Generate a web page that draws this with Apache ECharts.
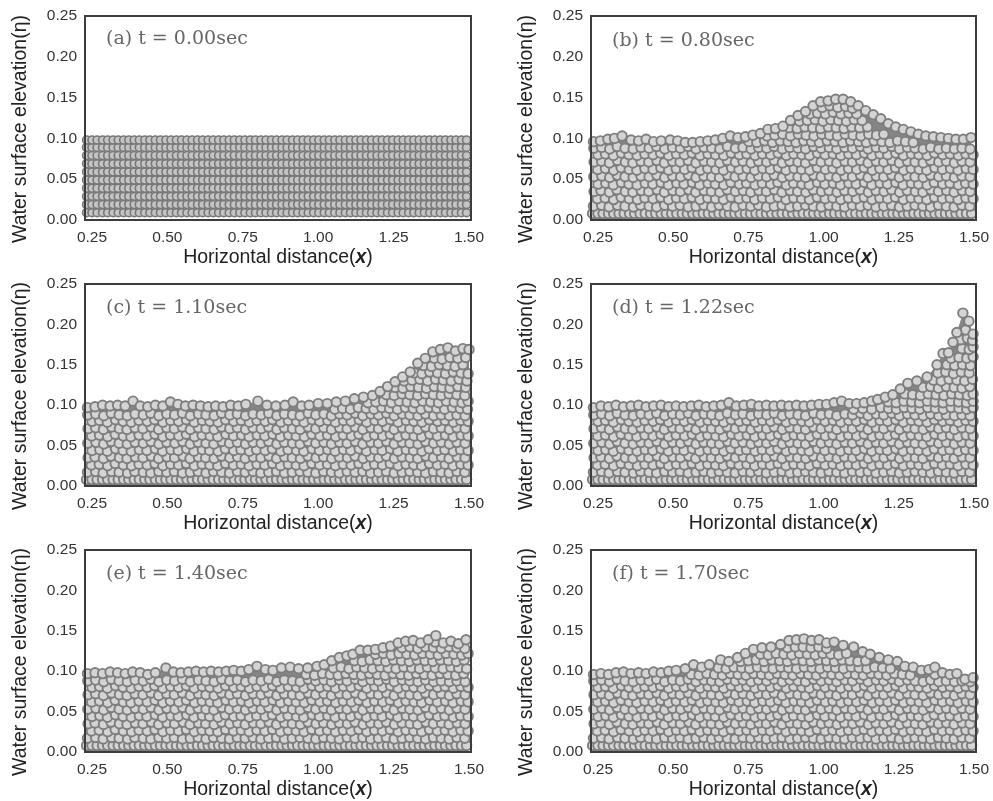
<!DOCTYPE html>
<html>
<head>
<meta charset="utf-8">
<style>
  html, body { margin: 0; background: #fff; }
  #chart { width: 993px; height: 801px; }
  /* the reference is a soft scan */
  #chart canvas { filter: blur(0.45px); }
</style>
<script src="https://cdn.jsdelivr.net/npm/echarts@6/dist/echarts.min.js"></script>
</head>
<body>
<div id="chart"></div>
<script>
  // tick labels
  const xTicks = [0.25, 0.5, 0.75, 1.0, 1.25, 1.5]
  const panelTitles = ['(a) t = 0.00sec', '(b) t = 0.80sec', '(c) t = 1.10sec', '(d) t = 1.22sec', '(e) t = 1.40sec', '(f) t = 1.70sec']

  // (a) starting lattice, and the fixed bottom row used in (b)-(f)
  const latticeX = [.232,.25,.267,.285,.302,.32,.337,.355,.372,.39,.407,.425,.442,.46,.477,.495,.512,.53,.547,.565,.582,.6,.617,.635,.652,.67,.687,.705,.722,.74,.757,.775,.792,.81,.827,.845,.862,.88,.897,.915,.932,.95,.967,.985,1.002,1.02,1.037,1.055,1.072,1.09,1.107,1.125,1.142,1.16,1.177,1.195,1.212,1.23,1.247,1.265,1.282,1.3,1.317,1.335,1.352,1.37,1.387,1.405,1.422,1.44,1.457,1.475,1.492]
  const latticeY = [.009,.019,.029,.039,.049,.059,.069,.079,.089,.098]
  const bedY = 0.008

  // Individual particles under y = 0.09 can't be told apart in the picture,
  // so this is one estimated packing shared by (b)-(f).
  const bodyPoints = [
    [.235,.017],[.262,.018],[.287,.016],[.315,.018],[.34,.017],[.368,.016],[.392,.018],[.42,.017],[.445,.016],[.472,.018],[.498,.017],[.523,.018],[.55,.016],[.576,.017],[.602,.018],[.628,.016],[.653,.018],[.68,.017],[.706,.016],[.732,.018],[.758,.017],[.784,.018],[.81,.016],[.836,.017],[.862,.018],[.888,.016],[.914,.017],[.94,.018],[.966,.017],[.992,.016],[1.018,.018],[1.044,.017],[1.07,.016],[1.096,.018],[1.122,.017],[1.148,.018],[1.174,.016],[1.2,.017],[1.226,.018],[1.252,.016],[1.278,.017],[1.304,.018],[1.33,.017],[1.356,.016],[1.382,.018],[1.408,.017],[1.434,.016],[1.46,.018],[1.486,.017],
    [.248,.026],[.274,.027],[.302,.025],[.327,.028],[.354,.026],[.381,.025],[.406,.027],[.433,.026],[.459,.028],[.485,.025],[.511,.027],[.537,.026],[.563,.028],[.589,.025],[.615,.027],[.641,.026],[.667,.025],[.693,.028],[.719,.026],[.745,.027],[.771,.025],[.797,.027],[.823,.026],[.849,.028],[.875,.025],[.901,.027],[.927,.026],[.953,.025],[.979,.028],[1.005,.026],[1.031,.027],[1.057,.025],[1.083,.027],[1.109,.026],[1.135,.028],[1.161,.025],[1.187,.027],[1.213,.026],[1.239,.028],[1.265,.025],[1.291,.027],[1.317,.026],[1.343,.025],[1.369,.028],[1.395,.026],[1.421,.027],[1.447,.025],[1.473,.027],[1.497,.026],
    [.237,.035],[.26,.036],[.288,.034],[.313,.037],[.341,.035],[.366,.034],[.394,.036],[.419,.035],[.447,.037],[.471,.034],[.499,.036],[.524,.035],[.552,.037],[.575,.034],[.603,.036],[.627,.035],[.655,.034],[.68,.037],[.707,.035],[.733,.036],[.758,.034],[.785,.036],[.81,.035],[.837,.037],[.862,.034],[.889,.036],[.914,.035],[.941,.034],[.966,.037],[.993,.035],[1.018,.036],[1.045,.034],[1.07,.036],[1.097,.035],[1.122,.037],[1.149,.034],[1.174,.036],[1.201,.035],[1.226,.037],[1.253,.034],[1.278,.036],[1.305,.035],[1.33,.034],[1.357,.037],[1.382,.035],[1.409,.036],[1.434,.034],[1.461,.036],[1.487,.035],
    [.25,.044],[.276,.045],[.301,.043],[.328,.046],[.353,.044],[.38,.043],[.407,.045],[.432,.044],[.46,.046],[.484,.043],[.512,.045],[.536,.044],[.564,.046],[.588,.043],[.616,.045],[.64,.044],[.668,.043],[.692,.046],[.72,.044],[.744,.045],[.772,.043],[.796,.045],[.824,.044],[.848,.046],[.876,.043],[.9,.045],[.928,.044],[.952,.043],[.98,.046],[1.004,.044],[1.032,.045],[1.056,.043],[1.084,.045],[1.108,.044],[1.136,.046],[1.16,.043],[1.188,.045],[1.212,.044],[1.24,.046],[1.264,.043],[1.292,.045],[1.316,.044],[1.344,.043],[1.368,.046],[1.396,.044],[1.42,.045],[1.448,.043],[1.472,.045],[1.497,.044],
    [.236,.053],[.263,.054],[.289,.052],[.314,.055],[.34,.053],[.367,.052],[.393,.054],[.42,.053],[.446,.055],[.472,.052],[.498,.054],[.525,.053],[.551,.055],[.576,.052],[.602,.054],[.628,.053],[.654,.052],[.681,.055],[.706,.053],[.732,.054],[.759,.052],[.784,.054],[.811,.053],[.836,.055],[.863,.052],[.888,.054],[.915,.053],[.94,.052],[.967,.055],[.992,.053],[1.019,.054],[1.044,.052],[1.071,.054],[1.096,.053],[1.123,.055],[1.148,.052],[1.175,.054],[1.2,.053],[1.227,.055],[1.252,.052],[1.279,.054],[1.304,.053],[1.331,.052],[1.356,.055],[1.383,.053],[1.408,.054],[1.435,.052],[1.46,.054],[1.487,.053],
    [.249,.062],[.275,.063],[.302,.061],[.327,.064],[.354,.062],[.379,.061],[.406,.063],[.433,.062],[.459,.064],[.485,.061],[.51,.063],[.538,.062],[.563,.064],[.59,.061],[.615,.063],[.642,.062],[.667,.061],[.694,.064],[.719,.062],[.746,.063],[.771,.061],[.798,.063],[.823,.062],[.85,.064],[.875,.061],[.902,.063],[.927,.062],[.954,.061],[.979,.064],[1.006,.062],[1.031,.063],[1.058,.061],[1.083,.063],[1.11,.062],[1.135,.064],[1.162,.061],[1.187,.063],[1.214,.062],[1.239,.064],[1.266,.061],[1.291,.063],[1.318,.062],[1.343,.061],[1.37,.064],[1.395,.062],[1.422,.063],[1.447,.061],[1.474,.063],[1.497,.062],
    [.237,.071],[.262,.072],[.288,.07],[.315,.073],[.341,.071],[.366,.07],[.393,.072],[.419,.071],[.446,.073],[.471,.07],[.498,.072],[.523,.071],[.55,.073],[.576,.07],[.603,.072],[.628,.071],[.655,.07],[.68,.073],[.707,.071],[.732,.072],[.759,.07],[.784,.072],[.811,.071],[.836,.073],[.863,.07],[.888,.072],[.915,.071],[.94,.07],[.967,.073],[.992,.071],[1.019,.072],[1.044,.07],[1.071,.072],[1.096,.071],[1.123,.073],[1.148,.07],[1.175,.072],[1.2,.071],[1.227,.073],[1.252,.07],[1.279,.072],[1.304,.071],[1.331,.07],[1.356,.073],[1.383,.071],[1.408,.072],[1.435,.07],[1.46,.072],[1.487,.071],
    [.25,.08],[.275,.081],[.301,.079],[.328,.082],[.353,.08],[.38,.079],[.406,.081],[.433,.08],[.458,.082],[.485,.079],[.511,.081],[.537,.08],[.563,.082],[.589,.079],[.616,.081],[.641,.08],[.668,.079],[.693,.082],[.72,.08],[.745,.081],[.772,.079],[.797,.081],[.824,.08],[.849,.082],[.876,.079],[.901,.081],[.928,.08],[.953,.079],[.98,.082],[1.005,.08],[1.032,.081],[1.057,.079],[1.084,.081],[1.109,.08],[1.136,.082],[1.161,.079],[1.188,.081],[1.213,.08],[1.24,.082],[1.265,.079],[1.292,.081],[1.317,.08],[1.344,.079],[1.369,.082],[1.396,.08],[1.421,.081],[1.448,.079],[1.473,.081],[1.497,.08],
    [.236,.088],[.262,.089],[.289,.087],[.314,.09],[.34,.088],[.367,.087],[.393,.089],[.42,.088],[.445,.09],[.472,.087],[.498,.089],[.524,.088],[.55,.09],[.576,.087],[.603,.089],[.628,.088],[.655,.087],[.68,.09],[.707,.088],[.732,.089],[.759,.087],[.784,.089],[.811,.088],[.836,.09],[.863,.087],[.888,.089],[.915,.088],[.94,.087],[.967,.09],[.992,.088],[1.019,.089],[1.044,.087],[1.071,.089],[1.096,.088],[1.123,.09],[1.148,.087],[1.175,.089],[1.2,.088],[1.227,.09],[1.252,.087],[1.279,.089],[1.304,.088],[1.331,.087],[1.356,.089],[1.383,.087],[1.408,.088],[1.435,.087],[1.46,.088],[1.487,.087]
  ]

  // top row of particles of each panel, read along the free surface
  const surfaceB = [[.235,.096],[.258,.097],[.283,.099],[.305,.1],[.33,.103],[.36,.098],[.385,.097],[.41,.099],[.435,.096],[.46,.097],[.49,.098],[.515,.097],[.54,.095],[.565,.095],[.59,.096],[.615,.097],[.64,.098],[.665,.1],[.69,.103],[.715,.101],[.74,.102],[.765,.104],[.79,.106],[.815,.111],[.84,.112],[.865,.115],[.89,.122],[.915,.128],[.94,.133],[.965,.14],[.99,.145],[1.015,.146],[1.04,.148],[1.065,.148],[1.09,.145],[1.115,.14],[1.14,.134],[1.165,.129],[1.19,.124],[1.215,.118],[1.24,.114],[1.265,.111],[1.29,.108],[1.315,.105],[1.34,.103],[1.365,.102],[1.39,.101],[1.415,.1],[1.44,.099],[1.465,.099],[1.49,.101]]
  const surfaceC = [[.235,.097],[.26,.098],[.285,.1],[.31,.099],[.335,.1],[.36,.099],[.386,.105],[.41,.099],[.435,.098],[.46,.1],[.485,.099],[.51,.104],[.535,.101],[.56,.099],[.585,.1],[.61,.099],[.635,.098],[.66,.099],[.685,.098],[.71,.1],[.735,.099],[.76,.101],[.8,.105],[.83,.1],[.86,.099],[.89,.1],[.917,.104],[.945,.099],[.97,.1],[1.0,.102],[1.03,.102],[1.06,.104],[1.09,.105],[1.12,.108],[1.15,.11],[1.18,.112],[1.205,.117],[1.23,.123],[1.255,.129],[1.28,.135],[1.305,.141],[1.33,.152],[1.355,.158],[1.38,.166],[1.405,.169],[1.43,.171],[1.455,.167],[1.48,.17],[1.5,.169]]
  const surfaceD = [[.235,.097],[.26,.099],[.285,.098],[.31,.1],[.335,.098],[.36,.099],[.385,.1],[.41,.098],[.435,.099],[.46,.1],[.485,.098],[.51,.099],[.535,.098],[.56,.099],[.585,.1],[.61,.098],[.635,.099],[.66,.1],[.685,.103],[.71,.099],[.735,.1],[.76,.101],[.785,.099],[.81,.1],[.835,.099],[.86,.1],[.885,.099],[.91,.1],[.935,.099],[.96,.1],[.985,.101],[1.01,.101],[1.035,.103],[1.06,.105],[1.085,.102],[1.11,.102],[1.135,.103],[1.16,.105],[1.18,.107],[1.205,.11],[1.23,.113],[1.255,.12],[1.28,.127],[1.31,.13],[1.344,.135],[1.377,.15],[1.397,.164],[1.415,.165],[1.43,.178],[1.443,.19],[1.463,.214],[1.483,.204],[1.497,.188]]
  const surfaceE = [[.235,.097],[.26,.098],[.285,.097],[.31,.099],[.335,.098],[.36,.097],[.385,.099],[.41,.098],[.435,.096],[.46,.098],[.495,.104],[.52,.099],[.545,.098],[.57,.099],[.595,.1],[.62,.099],[.645,.1],[.67,.099],[.695,.1],[.72,.101],[.745,.1],[.77,.102],[.797,.106],[.825,.102],[.85,.101],[.878,.104],[.907,.105],[.935,.103],[.965,.104],[.996,.106],[1.02,.108],[1.045,.113],[1.07,.117],[1.095,.119],[1.115,.121],[1.139,.126],[1.165,.126],[1.19,.127],[1.215,.129],[1.24,.131],[1.265,.135],[1.29,.137],[1.315,.138],[1.34,.135],[1.365,.139],[1.39,.144],[1.415,.135],[1.44,.137],[1.465,.134],[1.49,.139]]
  const surfaceF = [[.235,.096],[.26,.097],[.285,.096],[.31,.098],[.335,.099],[.36,.097],[.385,.098],[.41,.097],[.435,.099],[.46,.098],[.485,.1],[.51,.101],[.54,.103],[.568,.108],[.595,.105],[.62,.108],[.658,.114],[.685,.112],[.714,.117],[.74,.122],[.767,.127],[.795,.129],[.825,.13],[.857,.133],[.885,.138],[.91,.139],[.935,.14],[.96,.138],[.985,.139],[1.01,.135],[1.035,.136],[1.065,.132],[1.1,.13],[1.13,.124],[1.155,.121],[1.185,.117],[1.215,.114],[1.245,.112],[1.27,.106],[1.298,.105],[1.325,.101],[1.35,.102],[1.37,.105],[1.395,.098],[1.42,.096],[1.443,.097],[1.47,.09],[1.497,.092]]

  // particles between y = 0.09 and the surface where the water is raised
  const crestB = [[.752,.096],[.778,.095],[.804,.097],[.83,.095],[.856,.097],[.882,.096],[.908,.095],[.934,.097],[.96,.096],[.986,.095],[1.012,.097],[1.038,.096],[1.064,.095],[1.09,.097],[1.116,.096],[1.142,.095],[1.168,.097],[1.194,.096],[1.22,.095],[1.246,.097],[1.272,.096],[1.298,.095],[.812,.103],[.838,.104],[.864,.105],[.89,.103],[.916,.105],[.942,.104],[.968,.103],[.994,.105],[1.02,.104],[1.046,.103],[1.072,.105],[1.098,.104],[1.124,.103],[1.15,.105],[1.176,.104],[1.2,.105],[.886,.113],[.912,.112],[.938,.114],[.964,.113],[.99,.112],[1.016,.114],[1.042,.113],[1.068,.112],[1.094,.114],[1.12,.113],[1.146,.114],[.92,.121],[.946,.122],[.972,.123],[.998,.121],[1.024,.123],[1.05,.122],[1.076,.121],[1.102,.123],[1.128,.122],[.954,.13],[.98,.131],[1.006,.13],[1.032,.132],[1.058,.13],[1.084,.131],[1.11,.13],[.995,.138],[1.021,.14],[1.047,.138],[1.073,.139],[1.096,.137]]
  const crestC = [[1.055,.095],[1.081,.096],[1.107,.095],[1.133,.097],[1.159,.096],[1.185,.095],[1.211,.097],[1.237,.096],[1.263,.095],[1.289,.097],[1.315,.096],[1.341,.095],[1.367,.097],[1.393,.096],[1.419,.095],[1.445,.097],[1.471,.096],[1.495,.095],[1.165,.103],[1.191,.104],[1.217,.105],[1.243,.103],[1.269,.105],[1.295,.104],[1.321,.103],[1.347,.105],[1.373,.104],[1.399,.103],[1.425,.105],[1.451,.104],[1.477,.103],[1.497,.105],[1.226,.113],[1.252,.112],[1.278,.114],[1.304,.113],[1.33,.112],[1.356,.114],[1.382,.113],[1.408,.112],[1.434,.114],[1.46,.113],[1.486,.112],[1.255,.122],[1.281,.121],[1.307,.123],[1.333,.122],[1.359,.121],[1.385,.123],[1.411,.122],[1.437,.121],[1.463,.123],[1.489,.122],[1.285,.13],[1.311,.131],[1.337,.132],[1.363,.13],[1.389,.132],[1.415,.131],[1.441,.13],[1.467,.132],[1.493,.13],[1.318,.14],[1.344,.139],[1.37,.141],[1.396,.14],[1.422,.139],[1.448,.141],[1.474,.14],[1.497,.139],[1.35,.149],[1.376,.148],[1.402,.15],[1.428,.149],[1.454,.148],[1.48,.15],[1.385,.158],[1.411,.157],[1.437,.159],[1.463,.158],[1.489,.159]]
  const crestD = [[1.1,.095],[1.13,.096],[1.16,.095],[1.19,.097],[1.216,.096],[1.242,.095],[1.268,.097],[1.294,.096],[1.32,.095],[1.346,.097],[1.372,.096],[1.398,.095],[1.424,.097],[1.45,.096],[1.476,.095],[1.497,.097],[1.215,.104],[1.241,.103],[1.267,.105],[1.293,.104],[1.319,.103],[1.345,.105],[1.371,.104],[1.397,.103],[1.423,.105],[1.449,.104],[1.475,.103],[1.497,.105],[1.27,.114],[1.296,.113],[1.322,.112],[1.348,.114],[1.374,.113],[1.4,.112],[1.426,.114],[1.452,.113],[1.478,.112],[1.497,.114],[1.33,.122],[1.356,.123],[1.382,.121],[1.408,.123],[1.434,.122],[1.46,.121],[1.486,.123],[1.365,.131],[1.391,.13],[1.417,.132],[1.443,.131],[1.469,.13],[1.495,.132],[1.38,.14],[1.406,.141],[1.432,.139],[1.458,.141],[1.484,.14],[1.41,.15],[1.436,.149],[1.462,.15],[1.488,.149],[1.424,.158],[1.45,.159],[1.476,.158],[1.497,.16],[1.46,.17],[1.484,.169],[1.497,.172],[1.455,.181],[1.478,.183],[1.495,.18],[1.472,.193]]
  const crestE = [[.96,.096],[.988,.095],[1.014,.097],[1.04,.096],[1.066,.095],[1.092,.097],[1.118,.096],[1.144,.095],[1.17,.097],[1.196,.096],[1.222,.095],[1.248,.097],[1.274,.096],[1.3,.095],[1.326,.097],[1.352,.096],[1.378,.095],[1.404,.097],[1.43,.096],[1.456,.095],[1.482,.097],[1.05,.104],[1.076,.105],[1.102,.103],[1.128,.105],[1.154,.104],[1.18,.103],[1.206,.105],[1.232,.104],[1.258,.103],[1.284,.105],[1.31,.104],[1.336,.103],[1.362,.105],[1.388,.104],[1.414,.103],[1.44,.105],[1.466,.104],[1.492,.103],[1.12,.113],[1.146,.112],[1.172,.114],[1.198,.113],[1.224,.112],[1.25,.114],[1.276,.113],[1.302,.112],[1.328,.114],[1.354,.113],[1.38,.112],[1.406,.114],[1.432,.113],[1.458,.112],[1.484,.114],[1.19,.121],[1.216,.122],[1.242,.12],[1.268,.122],[1.294,.121],[1.32,.12],[1.346,.122],[1.372,.121],[1.398,.12],[1.424,.122],[1.45,.121],[1.476,.12],[1.497,.122],[1.278,.129],[1.304,.13],[1.33,.128],[1.356,.13],[1.382,.129],[1.408,.128],[1.434,.13],[1.46,.129],[1.486,.128],[1.388,.136]]
  const crestF = [[.56,.096],[.586,.095],[.612,.097],[.638,.096],[.664,.095],[.69,.097],[.716,.096],[.742,.095],[.768,.097],[.794,.096],[.82,.095],[.846,.097],[.872,.096],[.898,.095],[.924,.097],[.95,.096],[.976,.095],[1.002,.097],[1.028,.096],[1.054,.095],[1.08,.097],[1.106,.096],[1.132,.095],[1.158,.097],[1.184,.096],[1.21,.095],[1.236,.097],[1.262,.096],[1.288,.095],[1.37,.096],[.65,.104],[.676,.103],[.702,.105],[.728,.104],[.754,.103],[.78,.105],[.806,.104],[.832,.103],[.858,.105],[.884,.104],[.91,.103],[.936,.105],[.962,.104],[.988,.103],[1.014,.105],[1.04,.104],[1.066,.103],[1.092,.105],[1.118,.104],[1.144,.103],[1.17,.105],[1.196,.104],[1.222,.103],[.724,.112],[.75,.113],[.776,.114],[.802,.112],[.828,.114],[.854,.113],[.88,.112],[.906,.114],[.932,.113],[.958,.112],[.984,.114],[1.01,.113],[1.036,.112],[1.062,.114],[1.088,.113],[1.114,.112],[1.14,.113],[.79,.121],[.816,.12],[.842,.122],[.868,.121],[.894,.12],[.92,.122],[.946,.121],[.972,.12],[.998,.122],[1.024,.121],[1.05,.12],[1.076,.122],[.88,.129],[.906,.13],[.932,.13],[.958,.129],[.984,.13],[1.01,.128]]

  const surfaces = [null, surfaceB, surfaceC, surfaceD, surfaceE, surfaceF]
  const crests = [null, crestB, crestC, crestD, crestE, crestF]

  // the six plot frames
  const frames = [
    { left: 85, top: 16, width: 386, height: 204 }, { left: 591, top: 16, width: 385, height: 204 },
    { left: 85, top: 284, width: 386, height: 202 }, { left: 591, top: 284, width: 385, height: 202 },
    { left: 85, top: 550, width: 386, height: 202 }, { left: 591, top: 550, width: 385, height: 202 }
  ]
  const titleOffsets = [9, 11, 10, 10, 10, 10]

  const circleStyle = { color: '#d4d4d4', borderColor: '#7e7e7e', borderWidth: 1.9, opacity: 1 }
  const latticeStyle = { color: '#c4c4c4', borderColor: '#777', borderWidth: 1.6, opacity: 1 }
  const bedPoints = latticeX.map(x => [x, bedY])
  const startLattice = latticeY.flatMap(y => latticeX.map(x => [x, y]))

  const series = []
  frames.forEach((f, i) => {
    if (i === 0) {
      series.push({ type: 'scatter', xAxisIndex: 0, yAxisIndex: 0, data: startLattice, symbolSize: 8, itemStyle: latticeStyle, z: 3 })
      return
    }
    // dark backing under the particles, so the gaps don't show white
    series.push({
      type: 'line', xAxisIndex: i, yAxisIndex: i, data: surfaces[i], showSymbol: false, silent: true,
      lineStyle: { width: 0 }, areaStyle: { color: '#858585', opacity: 1 }, z: 1
    })
    const particles = bedPoints.concat(bodyPoints, crests[i], surfaces[i])
    series.push({ type: 'scatter', xAxisIndex: i, yAxisIndex: i, data: particles, symbolSize: 9.5, itemStyle: circleStyle, z: 3 })
  })

  const mycharts = echarts.init(document.getElementById('chart'))
  mycharts.setOption({
    animation: false,
    backgroundColor: '#fff',
    title: frames.map((f, i) => ({
      text: panelTitles[i],
      left: f.left + 16,
      top: f.top + titleOffsets[i],
      textStyle: { fontFamily: 'DejaVu Serif', fontWeight: 'normal', fontSize: 19, color: '#666' }
    })),
    grid: frames.map(f => ({ ...f, show: true, borderColor: '#3c3c3c', borderWidth: 2, backgroundColor: 'transparent', z: 5 })),
    xAxis: frames.map((f, i) => ({
      type: 'value',
      gridIndex: i,
      min: 0.2268,
      max: 1.5066,
      name: '{a|Horizontal distance(}{b|x}{a|)}',
      nameLocation: 'middle',
      nameGap: 28,
      nameTextStyle: {
        rich: {
          a: { fontFamily: 'Liberation Sans', fontSize: 19.5, color: '#222' },
          b: { fontFamily: 'Liberation Sans', fontSize: 19.5, color: '#222', fontWeight: 'bold', fontStyle: 'italic' }
        }
      },
      axisLine: { show: false },
      axisTick: { show: false },
      splitLine: { show: false },
      axisLabel: {
        customValues: xTicks,
        formatter: v => v.toFixed(2),
        fontFamily: 'Liberation Sans',
        fontSize: 15.5,
        color: '#333',
        margin: 10
      }
    })),
    yAxis: frames.map((f, i) => ({
      type: 'value',
      gridIndex: i,
      min: 0,
      max: 0.25,
      interval: 0.05,
      name: 'Water surface elevation(η)',
      nameLocation: 'middle',
      nameGap: 54,
      nameTextStyle: { fontFamily: 'Liberation Sans', fontSize: 19.5, color: '#222', padding: [0, 22, 0, 0] },
      axisLine: { show: false },
      axisTick: { show: false },
      splitLine: { show: false },
      axisLabel: {
        formatter: v => v.toFixed(2),
        fontFamily: 'Liberation Sans',
        fontSize: 15.5,
        color: '#333',
        margin: 8
      }
    })),
    series: series
  })
</script>
</body>
</html>
